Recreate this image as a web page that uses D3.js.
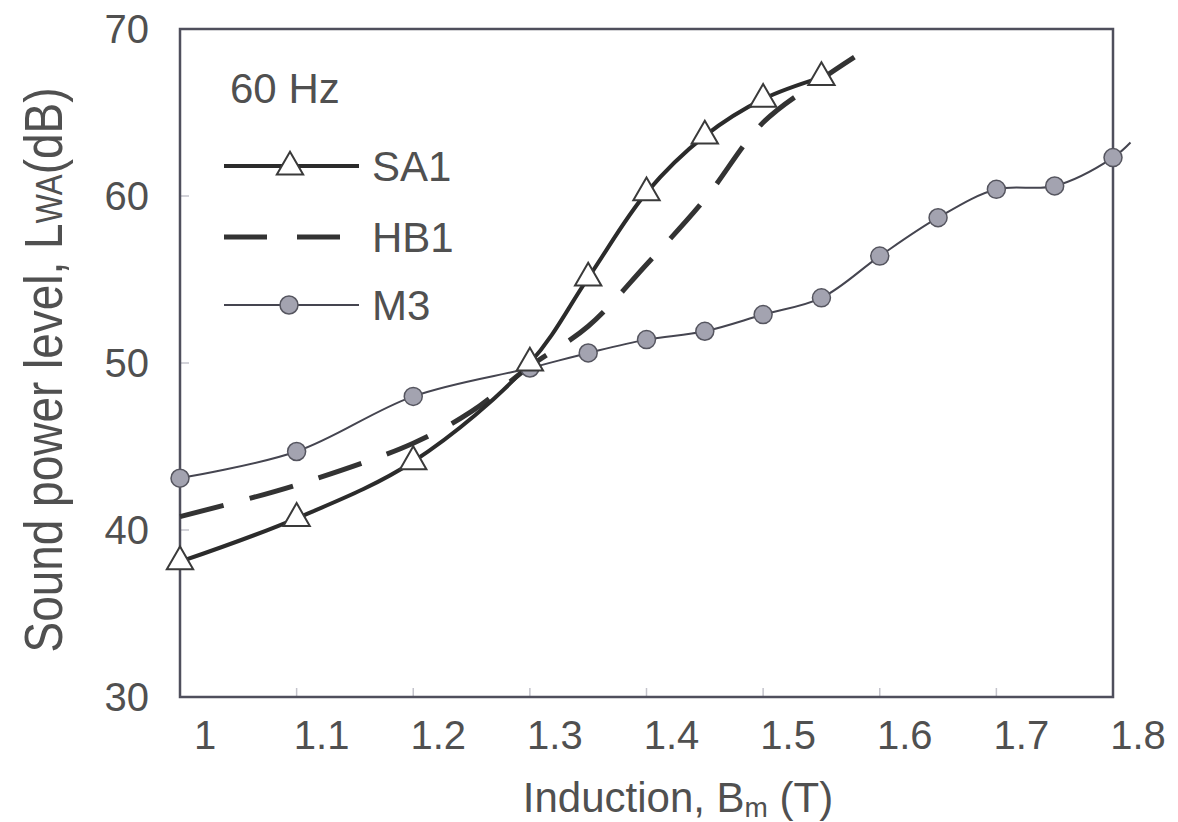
<!DOCTYPE html>
<meta charset="utf-8">
<style>
body { margin: 0; background: #fff; }
text { font-family: "Liberation Sans", Arial, sans-serif; fill: #505050; }
.frame { fill: none; stroke: #4f4f5c; stroke-width: 2.5px; }
.tick-mark { stroke: #c4c4cc; stroke-width: 1.5px; }
.sa1 { fill: none; stroke: #2b2b2b; stroke-width: 4px; }
.hb1 { fill: none; stroke: #333; stroke-width: 5px; stroke-dasharray: 45, 27; }
.m3 { fill: none; stroke: #454550; stroke-width: 2px; }
.tri { fill: #fff; stroke: #3a3a3a; stroke-width: 2px; }
.dot { fill: #a3a3b0; stroke: #55555f; stroke-width: 1.5px; }
</style>
<svg width="1178" height="822"></svg>
<script src="https://d3js.org/d3.v7.min.js"></script>
<script>
// induction Bm (T) and sound power level LWA (dB)
var sa1B = [1.0, 1.1, 1.2, 1.3, 1.35, 1.4, 1.45, 1.5, 1.55];
var sa1L = [38.1, 40.7, 44.1, 50.0, 55.1, 60.2, 63.6, 65.8, 67.1];

var hb1B = [1.0, 1.1, 1.2, 1.25, 1.3, 1.35, 1.4, 1.45, 1.5, 1.55, 1.58];
var hb1L = [40.8, 42.7, 45.2, 47.1, 49.8, 52.2, 55.9, 59.8, 64.4, 67.0, 68.4];

var m3B = [1.0, 1.1, 1.2, 1.3, 1.35, 1.4, 1.45, 1.5, 1.55, 1.6, 1.65, 1.7, 1.75, 1.8];
var m3L = [43.1, 44.7, 48.0, 49.7, 50.6, 51.4, 51.9, 52.9, 53.9, 56.4, 58.7, 60.4, 60.6, 62.3];
// the M3 curve runs on a little past the frame, with no marker there
var m3EndB = 1.815, m3EndL = 63.2;

var xTicks = [1, 1.1, 1.2, 1.3, 1.4, 1.5, 1.6, 1.7, 1.8];
var yTicks = [30, 40, 50, 60, 70];
var legendNames = ["SA1", "HB1", "M3"];

var svg = d3.select("svg");

var x = d3.scaleLinear().domain([1, 1.8]).range([180, 1113]),
    y = d3.scaleLinear().domain([30, 70]).range([697, 29]);

function pts(bs, ls) {
  return bs.map(function(b, i) { return {b: b, l: ls[i]}; });
}
var sa1 = pts(sa1B, sa1L),
    hb1 = pts(hb1B, hb1L),
    m3 = pts(m3B, m3L);

var line = d3.line()
    .curve(d3.curveCatmullRom.alpha(0.5))
    .x(function(d) { return x(d.b); })
    .y(function(d) { return y(d.l); });

// ticks, light and inside the frame
svg.append("g").selectAll("line")
    .data(xTicks.slice(1))
  .enter().append("line")
    .attr("class", "tick-mark")
    .attr("x1", function(d) { return x(d); })
    .attr("x2", function(d) { return x(d); })
    .attr("y1", y(30))
    .attr("y2", y(30) - 9);

svg.append("g").selectAll("line")
    .data(yTicks.slice(1, -1))
  .enter().append("line")
    .attr("class", "tick-mark")
    .attr("x1", x(1))
    .attr("x2", x(1) + 9)
    .attr("y1", function(d) { return y(d); })
    .attr("y2", function(d) { return y(d); });

svg.append("rect")
    .attr("class", "frame")
    .attr("x", x(1))
    .attr("y", y(70))
    .attr("width", x(1.8) - x(1))
    .attr("height", y(30) - y(70));

// tick labels (x labels sit a little to the right of their ticks, as in the source)
svg.append("g").selectAll("text")
    .data(xTicks)
  .enter().append("text")
    .attr("x", function(d) { return x(d) + 25; })
    .attr("y", 749)
    .attr("text-anchor", "middle")
    .style("font-size", "40px")
    .text(function(d) { return d3.format("~g")(d); });

svg.append("g").selectAll("text")
    .data(yTicks)
  .enter().append("text")
    .attr("x", 149)
    .attr("y", function(d) { return y(d); })
    .attr("dy", "0.36em")
    .attr("text-anchor", "end")
    .style("font-size", "40px")
    .text(function(d) { return d; });

// axis titles
var xt = svg.append("text")
    .attr("x", 678)
    .attr("y", 812)
    .attr("text-anchor", "middle")
    .style("font-size", "42px");
xt.append("tspan").text("Induction, B");
xt.append("tspan").style("font-size", "28px").attr("dy", 5).text("m");
xt.append("tspan").attr("dy", -5).text(" (T)");

var yt = svg.append("text")
    .attr("transform", "translate(62,370) rotate(-90)")
    .attr("text-anchor", "middle")
    .attr("textLength", 565)
    .attr("lengthAdjust", "spacingAndGlyphs")
    .style("font-size", "53px");
yt.append("tspan").text("Sound power level, L");
yt.append("tspan").style("font-size", "36px").text("WA");
yt.append("tspan").text("(dB)");

// series
svg.append("path")
    .attr("class", "m3")
    .attr("d", line(m3.concat([{b: m3EndB, l: m3EndL}])));

svg.append("path")
    .attr("class", "hb1")
    .attr("d", line(hb1));

svg.append("path")
    .attr("class", "sa1")
    .attr("d", line(sa1));

var tri = d3.symbol().type(d3.symbolTriangle).size(300);

svg.append("g").selectAll("circle")
    .data(m3)
  .enter().append("circle")
    .attr("class", "dot")
    .attr("cx", function(d) { return x(d.b); })
    .attr("cy", function(d) { return y(d.l); })
    .attr("r", 9);

svg.append("g").selectAll("path")
    .data(sa1)
  .enter().append("path")
    .attr("class", "tri")
    .attr("transform", function(d) { return "translate(" + x(d.b) + "," + y(d.l) + ")"; })
    .attr("d", tri);

// legend
svg.append("text")
    .attr("x", 230)
    .attr("y", 103)
    .style("font-size", "42px")
    .text("60 Hz");

var legY = [166, 237, 305],
    legClass = ["sa1", "hb1", "m3"];

var leg = svg.append("g").selectAll("g")
    .data(legendNames)
  .enter().append("g")
    .attr("transform", function(d, i) { return "translate(0," + legY[i] + ")"; });

leg.append("line")
    .attr("class", function(d, i) { return legClass[i]; })
    .attr("x1", 224)
    .attr("x2", function(d, i) { return i == 1 ? 343 : 359; })
    .style("stroke-dasharray", function(d, i) { return i == 1 ? "43,30" : null; });

leg.filter(function(d, i) { return i == 0; }).append("path")
    .attr("class", "tri")
    .attr("transform", "translate(290,1)")
    .attr("d", tri);

leg.filter(function(d, i) { return i == 2; }).append("circle")
    .attr("class", "dot")
    .attr("cx", 289)
    .attr("r", 9);

leg.append("text")
    .attr("x", 372)
    .attr("dy", "0.36em")
    .style("font-size", "42px")
    .text(function(d) { return d; });
</script>
